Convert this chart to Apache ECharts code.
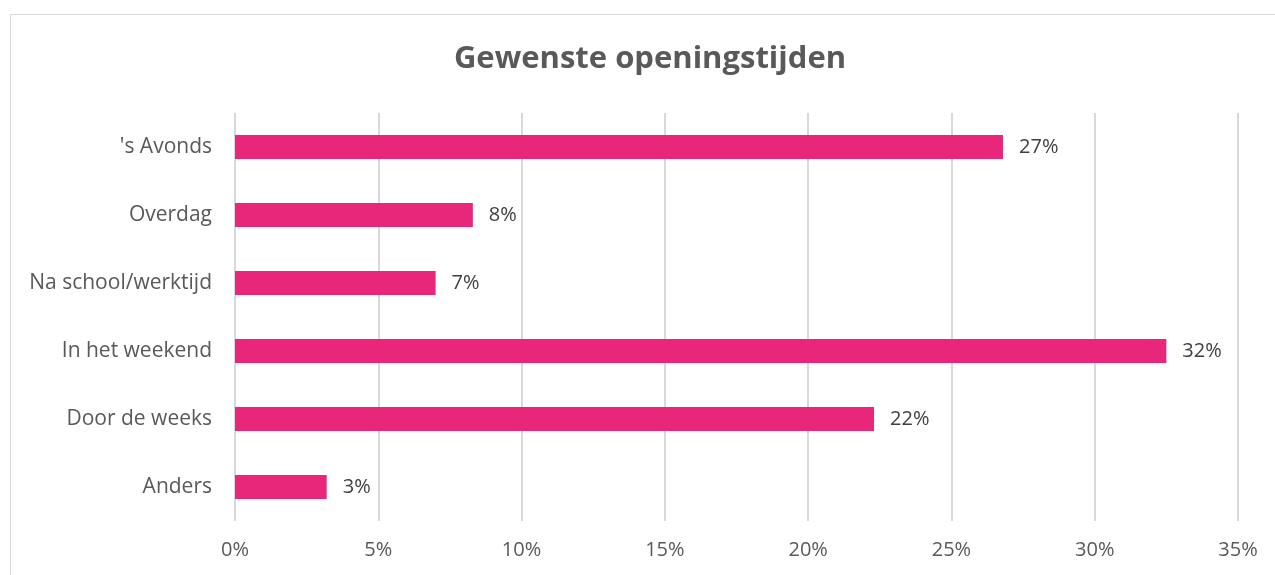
<!DOCTYPE html>
<html>
<head>
<meta charset="utf-8">
<script src="https://cdn.jsdelivr.net/npm/echarts@6/dist/echarts.min.js"></script>
<style>
  html, body { margin: 0; padding: 0; background: #fff; }
  #chart { width: 1275px; height: 575px; }
</style>
</head>
<body>
<div id="chart"></div>
<script>
// categories, top to bottom
var categories = ["'s Avonds", 'Overdag', 'Na school/werktijd', 'In het weekend', 'Door de weeks', 'Anders'];
// shares in percent
var values = [26.8, 8.3, 7.0, 32.5, 22.3, 3.2];
// labels as printed next to the bars
var valueLabels = ['27%', '8%', '7%', '32%', '22%', '3%'];
var xTicks = [0, 5, 10, 15, 20, 25, 30, 35];

var font = '"Open Sans", Lato, sans-serif';
var chart = echarts.init(document.getElementById('chart'));

chart.setOption({
  animation: false,
  title: {
    text: 'Gewenste openingstijden',
    left: 645,
    top: 39,
    textAlign: 'center',
    textStyle: { fontFamily: font, fontSize: 31, fontWeight: 'bold', color: '#595959' }
  },
  graphic: [{
    type: 'rect',
    shape: { x: 10.5, y: 14.5, width: 1300, height: 600 },
    style: { fill: 'none', stroke: '#d9d9d9', lineWidth: 1 },
    silent: true
  }],
  grid: { left: 235, right: 37, top: 113, bottom: 54 },
  xAxis: {
    type: 'value',
    min: xTicks[0],
    max: xTicks[xTicks.length - 1],
    interval: 5,
    axisLine: { show: false },
    axisTick: { show: false },
    splitLine: { lineStyle: { color: '#d9d9d9', width: 2 } },
    axisLabel: {
      margin: 19,
      fontFamily: font, fontSize: 20, color: '#595959',
      formatter: function (v) { return v + '%'; }
    }
  },
  yAxis: {
    type: 'category',
    data: categories,
    inverse: true,
    axisLine: { show: false },
    axisTick: { show: false },
    splitLine: { show: false },
    axisLabel: { margin: 23, fontFamily: font, fontSize: 21, color: '#595959' }
  },
  series: [{
    type: 'bar',
    data: values,
    barWidth: 24,
    itemStyle: { color: '#e8277a' },
    label: {
      show: true,
      position: 'right',
      distance: 16,
      fontFamily: font, fontSize: 20, color: '#404040',
      formatter: function (p) { return valueLabels[p.dataIndex]; }
    }
  }]
});
</script>
</body>
</html>
